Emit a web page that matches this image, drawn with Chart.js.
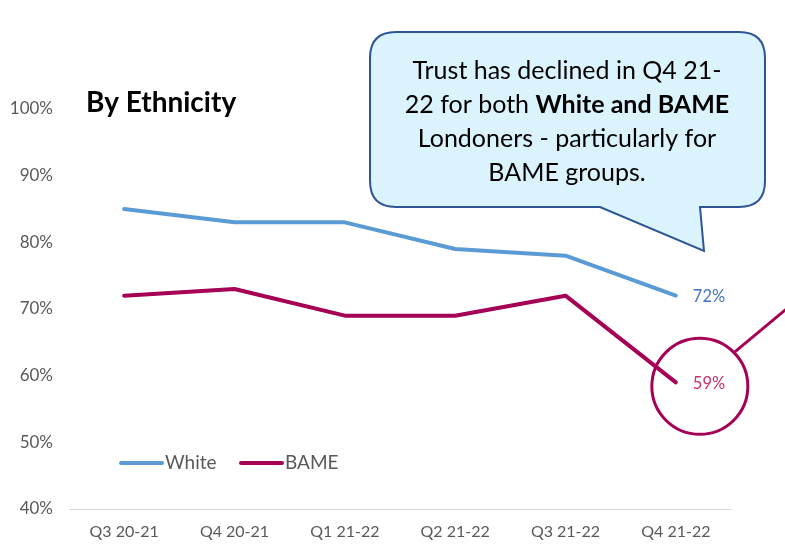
<!DOCTYPE html>
<html>
<head>
<meta charset="utf-8">
<script src="https://cdn.jsdelivr.net/npm/chart.js@4.4.1/dist/chart.umd.min.js"></script>
<style>
  html, body { margin: 0; padding: 0; background: #ffffff; }
  #wrap { width: 785px; height: 548px; }
</style>
</head>
<body>
<div id="wrap"><canvas id="c" width="785" height="548"></canvas></div>
<script>
// Quarterly trust levels by ethnicity (%)
const quarters = ['Q3 20-21', 'Q4 20-21', 'Q1 21-22', 'Q2 21-22', 'Q3 21-22', 'Q4 21-22'];
const whiteValues = [85, 83, 83, 79, 78, 72];
const bameValues = [72, 73, 69, 69, 72, 59];
const yTicks = [40, 50, 60, 70, 80, 90, 100];

const FONT = 'Lato, "Open Sans", sans-serif';
const WHITE_COLOR = '#5B9BD5';
const BAME_COLOR = '#A50056';

const calloutLines = [
  [{ t: 'Trust has declined in Q4 21-', b: false }],
  [{ t: '22 for both ', b: false }, { t: 'White and BAME', b: true }],
  [{ t: 'Londoners - particularly for', b: false }],
  [{ t: 'BAME groups.', b: false }]
];

const annotations = {
  id: 'annotations',
  afterDatasetsDraw(chart) {
    const ctx = chart.ctx;
    const white = chart.getDatasetMeta(0).data;
    const bame = chart.getDatasetMeta(1).data;
    const lw = white[white.length - 1];
    const lb = bame[bame.length - 1];

    ctx.save();
    // Heading
    ctx.fillStyle = '#000000';
    ctx.font = 'bold 28px ' + FONT;
    ctx.textAlign = 'left';
    ctx.textBaseline = 'middle';
    ctx.fillText('By Ethnicity', 86, 103);

    // End-point value labels
    ctx.font = '16.5px ' + FONT;
    ctx.textAlign = 'left';
    ctx.fillStyle = '#4472C4';
    ctx.fillText(whiteValues[whiteValues.length - 1] + '%', lw.x + 17, lw.y + 1);
    ctx.fillStyle = '#C8306F';
    ctx.fillText(bameValues[bameValues.length - 1] + '%', lb.x + 17, lb.y + 1);

    // Circle highlighting the BAME drop
    const cx = lb.x + 24, cy = lb.y + 4, r = 48;
    ctx.strokeStyle = BAME_COLOR;
    ctx.lineWidth = 3;
    ctx.beginPath();
    ctx.arc(cx, cy, r, 0, Math.PI * 2);
    ctx.stroke();
    const ang = -0.78;
    ctx.beginPath();
    ctx.moveTo(cx + r * Math.cos(ang), cy + r * Math.sin(ang));
    ctx.lineTo(790, 306);
    ctx.stroke();

    // Speech bubble
    const bx = 370, by = 32, bw = 395, bh = 175, br = 26;
    ctx.beginPath();
    ctx.moveTo(bx + br, by);
    ctx.lineTo(bx + bw - br, by);
    ctx.quadraticCurveTo(bx + bw, by, bx + bw, by + br);
    ctx.lineTo(bx + bw, by + bh - br);
    ctx.quadraticCurveTo(bx + bw, by + bh, bx + bw - br, by + bh);
    ctx.lineTo(700, by + bh);
    ctx.lineTo(704, 251);
    ctx.lineTo(600, by + bh);
    ctx.lineTo(bx + br, by + bh);
    ctx.quadraticCurveTo(bx, by + bh, bx, by + bh - br);
    ctx.lineTo(bx, by + br);
    ctx.quadraticCurveTo(bx, by, bx + br, by);
    ctx.closePath();
    ctx.fillStyle = '#DAF3FC';
    ctx.fill();
    ctx.strokeStyle = '#2F5597';
    ctx.lineWidth = 2;
    ctx.stroke();

    // Bubble text, centred line by line with mixed weights
    ctx.fillStyle = '#000000';
    ctx.textAlign = 'left';
    const centreX = 567;
    calloutLines.forEach((parts, i) => {
      let total = 0;
      parts.forEach(p => {
        ctx.font = (p.b ? 'bold ' : '') + '25px ' + FONT;
        p.w = ctx.measureText(p.t).width;
        total += p.w;
      });
      let x = centreX - total / 2;
      const y = 71 + i * 34;
      parts.forEach(p => {
        ctx.font = (p.b ? 'bold ' : '') + '25px ' + FONT;
        ctx.fillText(p.t, x, y);
        x += p.w;
      });
    });

    // Legend inside the plot
    ctx.font = '19px ' + FONT;
    ctx.lineCap = 'round';
    ctx.lineWidth = 4;
    const items = [
      { label: chart.data.datasets[0].label, color: WHITE_COLOR, x: 121 },
      { label: chart.data.datasets[1].label, color: BAME_COLOR, x: 241 }
    ];
    items.forEach(it => {
      ctx.strokeStyle = it.color;
      ctx.beginPath();
      ctx.moveTo(it.x, 463);
      ctx.lineTo(it.x + 41, 463);
      ctx.stroke();
      ctx.fillStyle = '#595959';
      ctx.fillText(it.label, it.x + 44, 463);
    });
    ctx.restore();
  }
};

new Chart(document.getElementById('c'), {
  type: 'line',
  data: {
    labels: quarters,
    datasets: [
      {
        label: 'White',
        data: whiteValues,
        borderColor: WHITE_COLOR,
        borderWidth: 4,
        pointRadius: 0,
        tension: 0,
        borderCapStyle: 'round',
        borderJoinStyle: 'round'
      },
      {
        label: 'BAME',
        data: bameValues,
        borderColor: BAME_COLOR,
        borderWidth: 4,
        pointRadius: 0,
        tension: 0,
        borderCapStyle: 'round',
        borderJoinStyle: 'round'
      }
    ]
  },
  options: {
    responsive: false,
    animation: false,
    layout: { padding: { top: 109, right: 54, bottom: 0, left: 0 } },
    plugins: {
      legend: { display: false },
      tooltip: { enabled: false }
    },
    scales: {
      x: {
        offset: true,
        grid: { display: false, drawTicks: false },
        border: { display: true, color: '#D9D9D9', width: 1 },
        ticks: { color: '#595959', font: { family: FONT, size: 16 }, padding: 13, maxRotation: 0 },
        afterFit(scale) { scale.height = 39; }
      },
      y: {
        min: 40,
        max: 100,
        afterBuildTicks(scale) { scale.ticks = yTicks.map(v => ({ value: v })); },
        grid: { display: false, drawTicks: false },
        border: { display: false },
        ticks: {
          color: '#595959',
          font: { family: FONT, size: 17 },
          padding: 16,
          callback: v => v + '%'
        },
        afterFit(scale) { scale.width = 69; }
      }
    }
  },
  plugins: [annotations]
});
</script>
</body>
</html>
